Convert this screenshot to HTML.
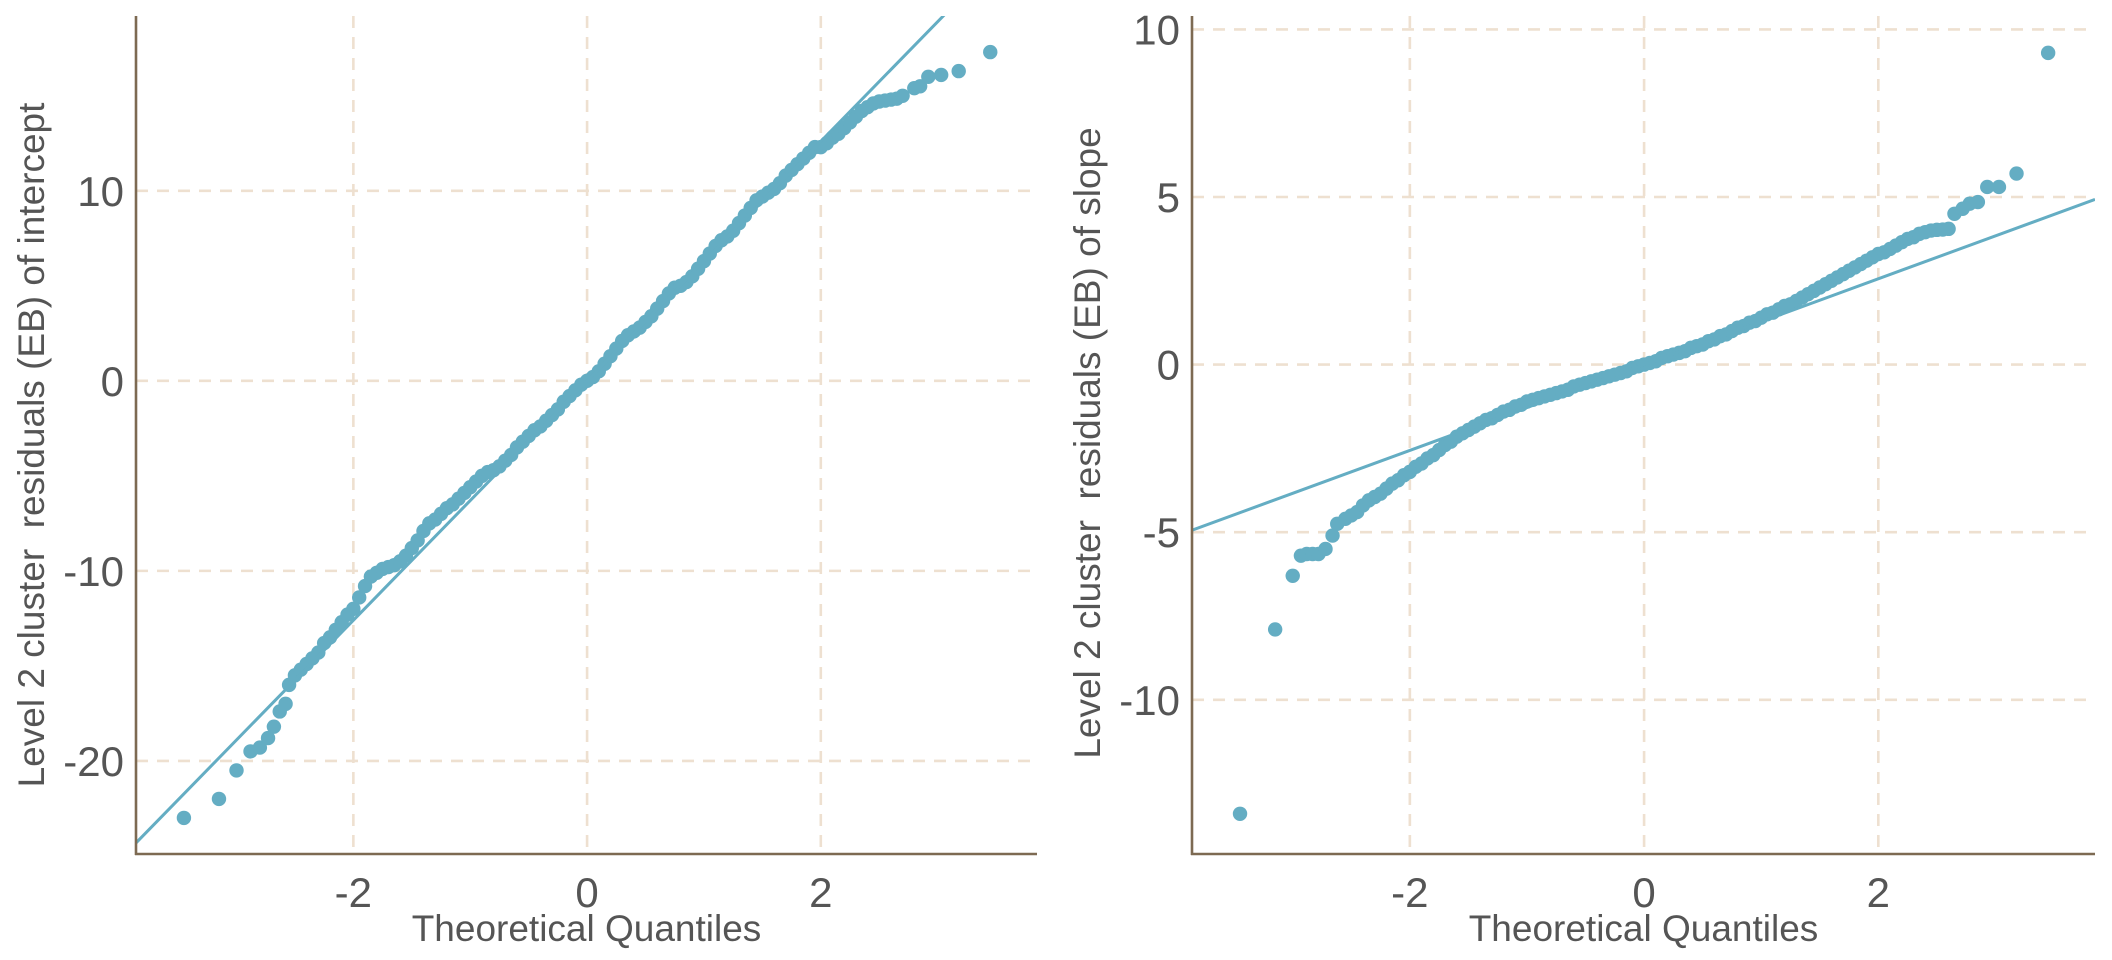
<!DOCTYPE html>
<html><head><meta charset="utf-8"><style>
html,body{margin:0;padding:0;background:#fff}
svg{display:block;font-family:"Liberation Sans",sans-serif}
</style></head><body>
<svg id="chart" width="2112" height="960" viewBox="0 0 2112 960" xmlns="http://www.w3.org/2000/svg"></svg>
<script>
// ---- Left panel data (intercept residuals) ----
const leftQ = [-3.45,-3.15,-3.0,-2.88,-2.8,-2.73,-2.68,-2.63,-2.58,-2.55,-2.5,
-2.45,-2.40,-2.35,-2.30,-2.25,-2.20,-2.15,-2.10,-2.05,-2.00,-1.95,-1.90,-1.85,-1.80,-1.75,-1.70,-1.65,-1.60,-1.55,-1.50,-1.45,-1.40,-1.35,-1.30,-1.25,-1.20,-1.15,-1.10,-1.05,-1.00,-0.95,-0.90,-0.85,-0.80,-0.75,-0.70,-0.65,-0.60,-0.55,-0.50,-0.45,-0.40,-0.35,-0.30,-0.25,-0.20,-0.15,-0.10,-0.05,0.00,0.05,0.10,0.15,0.20,0.25,0.30,0.35,0.40,0.45,0.50,0.55,0.60,0.65,0.70,0.75,0.80,0.85,0.90,0.95,1.00,1.05,1.10,1.15,1.20,1.25,1.30,1.35,1.40,1.45,1.50,1.55,1.60,1.65,1.70,1.75,1.80,1.85,1.90,1.95,2.00,2.05,2.10,2.15,2.20,2.25,2.30,2.35,2.40,2.45,2.50,2.55,2.60,2.65,2.70,
2.8,2.85,2.92,3.03,3.18,3.45];
const leftR = [-23,-22,-20.5,-19.5,-19.3,-18.8,-18.2,-17.4,-17.0,-16.0,-15.5,
-15.2,-14.9,-14.6,-14.3,-13.8,-13.5,-13.1,-12.7,-12.3,-12.0,-11.4,-10.8,-10.3,-10.1,-9.9,-9.8,-9.7,-9.5,-9.2,-8.8,-8.4,-7.9,-7.5,-7.3,-7.0,-6.7,-6.5,-6.2,-5.9,-5.6,-5.3,-5.0,-4.8,-4.7,-4.5,-4.2,-3.9,-3.5,-3.2,-2.9,-2.6,-2.4,-2.1,-1.8,-1.5,-1.1,-0.8,-0.5,-0.2,0.0,0.2,0.5,0.9,1.3,1.7,2.1,2.4,2.6,2.8,3.1,3.4,3.8,4.2,4.6,4.9,5.0,5.2,5.5,5.9,6.3,6.7,7.1,7.4,7.6,7.9,8.3,8.7,9.1,9.5,9.7,9.9,10.1,10.4,10.8,11.1,11.4,11.7,12.0,12.3,12.3,12.5,12.8,13.0,13.3,13.6,13.9,14.2,14.4,14.6,14.7,14.75,14.8,14.85,15.0,
15.4,15.5,16.0,16.1,16.3,17.3];
const leftLine = [0, 6.3]; // intercept, slope
const leftYTicks = [10, 0, -10, -20];

// ---- Right panel data (slope residuals) ----
const rightQ = [-3.45,-3.15,-3.0,-2.93,-2.88,-2.83,-2.78,-2.72,-2.66,-2.62,-2.55,
-2.50,-2.45,-2.40,-2.35,-2.30,-2.25,-2.20,-2.15,-2.10,-2.05,-2.00,-1.95,-1.90,-1.85,-1.80,-1.75,-1.70,-1.65,-1.60,-1.55,-1.50,-1.45,-1.40,-1.35,-1.30,-1.25,-1.20,-1.15,-1.10,-1.05,-1.00,-0.95,-0.90,-0.85,-0.80,-0.75,-0.70,-0.65,-0.60,-0.55,-0.50,-0.45,-0.40,-0.35,-0.30,-0.25,-0.20,-0.15,-0.10,-0.05,0.00,0.05,0.10,0.15,0.20,0.25,0.30,0.35,0.40,0.45,0.50,0.55,0.60,0.65,0.70,0.75,0.80,0.85,0.90,0.95,1.00,1.05,1.10,1.15,1.20,1.25,1.30,1.35,1.40,1.45,1.50,1.55,1.60,1.65,1.70,1.75,1.80,1.85,1.90,1.95,2.00,2.05,2.10,2.15,2.20,2.25,2.30,2.35,2.40,2.45,2.50,2.55,2.60,
2.65,2.72,2.78,2.85,2.93,3.03,3.18,3.45];
const rightR = [-13.4,-7.9,-6.3,-5.7,-5.65,-5.65,-5.65,-5.5,-5.1,-4.75,-4.6,
-4.5,-4.4,-4.2,-4.05,-3.95,-3.85,-3.7,-3.55,-3.45,-3.3,-3.2,-3.05,-2.95,-2.8,-2.7,-2.55,-2.4,-2.3,-2.15,-2.05,-1.95,-1.85,-1.75,-1.65,-1.6,-1.5,-1.4,-1.35,-1.25,-1.2,-1.1,-1.05,-1.0,-0.95,-0.9,-0.85,-0.8,-0.75,-0.65,-0.6,-0.55,-0.5,-0.45,-0.4,-0.35,-0.3,-0.25,-0.2,-0.1,-0.05,0,0.05,0.1,0.2,0.25,0.3,0.35,0.4,0.5,0.55,0.6,0.7,0.75,0.85,0.9,1.0,1.1,1.15,1.25,1.3,1.4,1.5,1.55,1.65,1.75,1.8,1.9,2.0,2.1,2.2,2.3,2.4,2.5,2.6,2.7,2.8,2.9,3.0,3.1,3.2,3.3,3.35,3.45,3.55,3.65,3.75,3.8,3.9,3.95,4.0,4.02,4.03,4.05,
4.5,4.65,4.8,4.85,5.3,5.3,5.7,9.3];
const rightLine = [0, 1.28];
const rightYTicks = [10, 5, 0, -5, -10];

const xTicks = [-2, 0, 2];
const xTickLabels = ["-2", "0", "2"];

const NS = "http://www.w3.org/2000/svg";
const svg = document.getElementById('chart');
function mk(tag, attrs, parent){ const e=document.createElementNS(NS,tag); for(const k in attrs) e.setAttribute(k,attrs[k]); (parent||svg).appendChild(e); return e; }

function panel(o){
  const g = mk('g',{});
  
  
  const sx = v => o.x0 + (v - o.xmin)/(o.xmax - o.xmin)*(o.x1 - o.x0);
  const sy = v => o.y1 - (v - o.ymin)/(o.ymax - o.ymin)*(o.y1 - o.y0);
  xTicks.forEach((t,i)=>{
    const l = mk('line',{x1:sx(t),x2:sx(t),y1:o.y0,y2:o.y1,stroke:'#eee0d0','stroke-width':2.6,'stroke-dasharray':'12 9'},g);
    
    
    const tx = mk('text',{x:sx(t),y:907,'text-anchor':'middle','font-size':42,fill:'#555'},g);
    tx.textContent = xTickLabels[i];
    
    
  });
  o.yTicks.forEach(t=>{
    const l = mk('line',{x1:o.x0,x2:o.x1,y1:sy(t),y2:sy(t),stroke:'#eee0d0','stroke-width':2.6,'stroke-dasharray':'12 9'},g);
    
    
    const tx = mk('text',{x:o.x0-12,y:sy(t)+15,'text-anchor':'end','font-size':42,fill:'#555'},g);
    tx.textContent = String(t);
    
    
  });
  const pg = mk('g',{fill:'#64adc3'},g);
  
  
  o.q.forEach((q,i)=>{
    const c = mk('circle',{cx:sx(q),cy:sy(o.r[i]),r:7.2},pg);
    
    
  });
  const cid = o.name+'-clip';
  const cp = mk('clipPath',{id:cid},g);
  mk('rect',{x:o.x0,y:o.y0,width:o.x1-o.x0,height:o.y1-o.y0},cp);
  const ln = mk('line',{x1:sx(o.xmin),y1:sy(o.line[0]+o.line[1]*o.xmin),x2:sx(o.xmax),y2:sy(o.line[0]+o.line[1]*o.xmax),stroke:'#64adc3','stroke-width':3,'clip-path':'url(#'+cid+')'},g);
  
  
  const ya = mk('line',{x1:o.x0,x2:o.x0,y1:o.y0,y2:o.y1+1,stroke:'#7d6a52','stroke-width':2.6},g);
  
  
  const xa = mk('line',{x1:o.x0-1,x2:o.x1,y1:o.y1,y2:o.y1,stroke:'#7d6a52','stroke-width':2.6},g);
  
  
  const xt = mk('text',{x:(o.x0+o.x1)/2,y:941,'text-anchor':'middle','font-size':37,fill:'#555'},g);
  xt.textContent = 'Theoretical Quantiles';
  
  
  const yt = mk('text',{x:0,y:0,'text-anchor':'middle','font-size':37,fill:'#555',transform:`translate(${o.titleX},${o.titleY}) rotate(-90)`},g);
  yt.textContent = o.yTitle;
  yt.style.whiteSpace = 'pre';
  
  
}

panel({name:'intercept-panel',x0:136,x1:1037,y0:16,y1:854,xmin:-3.86,xmax:3.85,ymin:-24.9,ymax:19.2,
  q:leftQ,r:leftR,line:leftLine,yTicks:leftYTicks,titleX:44,titleY:445,yTitle:'Level 2 cluster  residuals (EB) of intercept'});
panel({name:'slope-panel',x0:1192,x1:2095,y0:16,y1:854,xmin:-3.86,xmax:3.85,ymin:-14.6,ymax:10.4,
  q:rightQ,r:rightR,line:rightLine,yTicks:rightYTicks,titleX:1100,titleY:443,yTitle:'Level 2 cluster  residuals (EB) of slope'});
</script>
</body></html>
